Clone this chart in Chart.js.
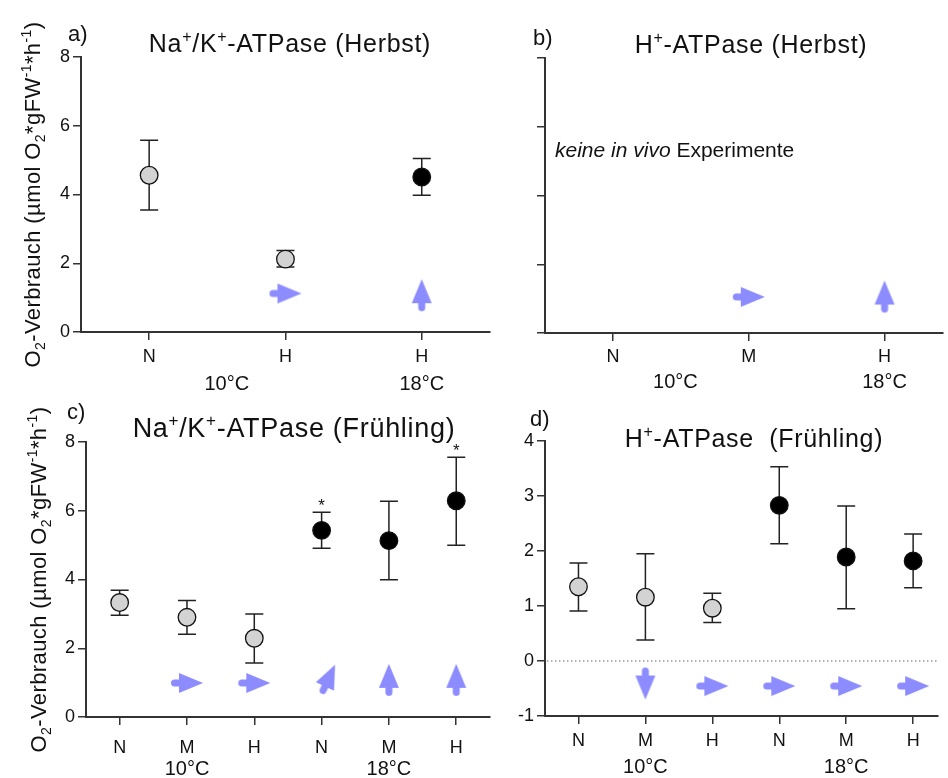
<!DOCTYPE html>
<html>
<head>
<meta charset="utf-8">
<script src="https://cdn.jsdelivr.net/npm/chart.js@4.4.1/dist/chart.umd.min.js"></script>
<style>
  body { margin: 0; background: #fff; width: 948px; height: 778px; position: relative; overflow: hidden; }
  canvas { position: absolute; }
</style>
</head>
<body>
<canvas id="chartA" width="500" height="395" style="left:0;top:0"></canvas>
<canvas id="chartB" width="478" height="395" style="left:470px;top:0"></canvas>
<canvas id="chartC" width="500" height="393" style="left:0;top:385px"></canvas>
<canvas id="chartD" width="478" height="393" style="left:470px;top:385px"></canvas>
<script>
// ===============================
// Data
// ===============================
// a) Na+/K+-ATPase (Herbst)
const aLabels = ["N", "H", "H"];
const aTemp = [10, 10, 18];
const aMean = [4.56, 2.12, 4.51];
const aLow = [3.55, 1.89, 3.98];
const aHigh = [5.58, 2.37, 5.05];
const aArrowX = [1, 2];
const aArrowY = [1.12, 1.07];
const aArrowDir = ["right", "up"];
const aGroups = ["10°C", "18°C"];
const aGroupX = [0.57, 2];

// b) H+-ATPase (Herbst)
const bLabels = ["N", "M", "H"];
const bArrowX = [1, 2];
const bArrowY = [1.05, 1.06];
const bArrowDir = ["right", "up"];
const bGroups = ["10°C", "18°C"];
const bGroupX = [0.46, 2];

// c) Na+/K+-ATPase (Frühling)
const cLabels = ["N", "M", "H", "N", "M", "H"];
const cTemp = [10, 10, 10, 18, 18, 18];
const cMean = [3.33, 2.90, 2.29, 5.43, 5.13, 6.29];
const cLow = [2.96, 2.41, 1.57, 4.91, 3.99, 5.00];
const cHigh = [3.69, 3.39, 3.00, 5.96, 6.28, 7.56];
const cStar = ["", "", "", "*", "", "*"];
const cArrowX = [1, 2, 3.1, 4, 5];
const cArrowY = [0.99, 0.99, 1.1, 1.08, 1.08];
const cArrowDir = ["right", "right", "upright", "up", "up"];
const cGroups = ["10°C", "18°C"];
const cGroupX = [1, 4];

// d) H+-ATPase (Frühling)
const dLabels = ["N", "M", "H", "N", "M", "H"];
const dTemp = [10, 10, 10, 18, 18, 18];
const dMean = [1.35, 1.16, 0.96, 2.83, 1.89, 1.82];
const dLow = [0.91, 0.38, 0.70, 2.13, 0.95, 1.33];
const dHigh = [1.78, 1.95, 1.23, 3.53, 2.82, 2.31];
const dArrowX = [1, 2, 3, 4, 5];
const dArrowY = [-0.41, -0.455, -0.455, -0.455, -0.455];
const dArrowDir = ["down", "right", "right", "right", "right"];
const dGroups = ["10°C", "18°C"];
const dGroupX = [1, 4];

// ===============================
// Helpers
// ===============================
const FONT = '"Liberation Sans", Arial, Helvetica, sans-serif';
const AXIS = "#333";
const ROT = { right: 0, up: -90, down: 90, upright: -65 };

const yTitle = [["O", ""], ["2", "sub"], ["-Verbrauch (µmol O", ""], ["2", "sub"], ["*gFW", ""],
  ["-1", "sup"], ["*h", ""], ["-1", "sup"], [")", ""]];

function makeArrow() {
  const c = document.createElement("canvas");
  c.width = 34; c.height = 22;
  const g = c.getContext("2d");
  g.fillStyle = "#8c8cff";
  // stub tail with round end
  g.beginPath();
  g.arc(4.5, 11, 3.5, Math.PI / 2, Math.PI * 1.5);
  g.lineTo(12, 7.5);
  g.lineTo(12, 14.5);
  g.closePath();
  g.fill();
  // head
  g.beginPath();
  g.moveTo(9, 1);
  g.lineTo(33, 11);
  g.lineTo(9, 21);
  g.closePath();
  g.fill();
  return c;
}
const arrowImg = makeArrow();

// draws text made of [text, kind] parts; kind: "", "sup", "sub", "i"
function drawRich(ctx, parts, x, y, size, align, rot, spacing) {
  ctx.save();
  ctx.translate(x, y);
  if (rot) ctx.rotate(rot);
  ctx.fillStyle = "#111";
  ctx.textBaseline = "alphabetic";
  ctx.textAlign = "left";
  ctx.letterSpacing = (spacing || 0) + "px";
  const fontFor = k => (k === "i" ? "italic " : "") +
    (k === "sup" || k === "sub" ? Math.round(size * 0.62) : size) + "px " + FONT;
  let w = 0;
  parts.forEach(p => { ctx.font = fontFor(p[1]); w += ctx.measureText(p[0]).width; });
  let cx = align === "center" ? -w / 2 : 0;
  parts.forEach(p => {
    ctx.font = fontFor(p[1]);
    const dy = p[1] === "sup" ? -size * 0.42 : p[1] === "sub" ? size * 0.24 : 0;
    ctx.fillText(p[0], cx, dy);
    cx += ctx.measureText(p[0]).width;
  });
  ctx.restore();
}

const errorBars = {
  id: "errorBars",
  beforeDatasetsDraw(chart, args, o) {
    const { ctx, scales: { x, y }, chartArea } = chart;
    if (o.zeroLine) {
      ctx.save();
      ctx.strokeStyle = "#666";
      ctx.lineWidth = 1.2;
      ctx.setLineDash([1.5, 2.5]);
      const py = y.getPixelForValue(0);
      ctx.beginPath();
      ctx.moveTo(chartArea.left + 2, py);
      ctx.lineTo(chartArea.right, py);
      ctx.stroke();
      ctx.restore();
    }
    if (!o.low) return;
    ctx.save();
    ctx.strokeStyle = "#222";
    ctx.lineWidth = 1.5;
    o.low.forEach((lo, i) => {
      const px = x.getPixelForValue(i);
      const p1 = y.getPixelForValue(lo);
      const p2 = y.getPixelForValue(o.high[i]);
      ctx.beginPath();
      ctx.moveTo(px, p1); ctx.lineTo(px, p2);
      ctx.moveTo(px - 9, p1); ctx.lineTo(px + 9, p1);
      ctx.moveTo(px - 9, p2); ctx.lineTo(px + 9, p2);
      ctx.stroke();
    });
    ctx.restore();
  }
};

const texts = {
  id: "texts",
  afterDraw(chart, args, o) {
    const { ctx, scales: { x, y } } = chart;
    drawRich(ctx, [[o.tag, ""]], o.tagPos[0], o.tagPos[1], 22, "left");
    drawRich(ctx, o.title, o.titlePos[0], o.titlePos[1], o.titleSize, "center", 0, 0.7);
    if (o.yTitlePos) drawRich(ctx, yTitle, o.yTitlePos[0], o.yTitlePos[1], 22, "center", -Math.PI / 2, 0.4);
    o.groups.forEach((g, i) => {
      drawRich(ctx, [[g, ""]], x.getPixelForValue(o.groupX[i]), o.groupY, 20, "center");
    });
    if (o.note) drawRich(ctx, o.note, o.notePos[0], o.notePos[1], 21, "left");
    if (o.stars) {
      o.stars.forEach((s, i) => {
        if (!s) return;
        drawRich(ctx, [[s, ""]], x.getPixelForValue(i), y.getPixelForValue(o.high[i]) - 1, 17, "center");
      });
    }
  }
};

function makePanel(id, o) {
  const datasets = [];
  if (o.mean) {
    datasets.push({
      data: o.mean.map((v, i) => ({ x: i, y: v })),
      pointRadius: 8.8,
      pointBackgroundColor: o.temp.map(t => (t === 10 ? "#d3d3d3" : "#000")),
      pointBorderColor: "#111",
      pointBorderWidth: 1.3,
      showLine: false
    });
  }
  datasets.push({
    data: o.arrowX.map((v, i) => ({ x: v, y: o.arrowY[i] })),
    pointStyle: arrowImg,
    rotation: o.arrowDir.map(d => ROT[d]),
    showLine: false
  });

  const tickFont = { family: FONT, size: 18 };
  const grid = { drawOnChartArea: false, drawTicks: true, tickLength: 8, color: AXIS, lineWidth: 1.5 };
  const border = { display: true, color: AXIS, width: 2 };

  new Chart(document.getElementById(id), {
    type: "scatter",
    data: { datasets },
    plugins: [errorBars, texts],
    options: {
      responsive: false,
      animation: false,
      layout: { padding: { left: 0, top: o.area.top, right: o.w - o.area.right, bottom: 0 } },
      plugins: {
        legend: { display: false },
        tooltip: { enabled: false },
        errorBars: { low: o.low, high: o.high, zeroLine: o.zeroLine },
        texts: o.text
      },
      scales: {
        x: {
          type: "linear",
          min: o.xMin,
          max: o.xMax,
          afterBuildTicks: s => { s.ticks = o.labels.map((l, i) => ({ value: i })); },
          afterFit: s => { s.height = o.h - o.area.bottom; },
          ticks: { callback: v => o.labels[v], font: tickFont, color: "#111", padding: o.xPad, maxRotation: 0, autoSkip: false },
          grid,
          border
        },
        y: {
          min: o.yMin,
          max: o.yMax,
          afterFit: s => { s.width = o.area.left; },
          ticks: { stepSize: o.yStep, callback: v => (o.yNumbers ? v : ""), font: tickFont, color: "#111", padding: 3 },
          grid,
          border
        }
      }
    }
  });
}

// ===============================
// Panels
// ===============================
makePanel("chartA", {
  w: 500, h: 395, area: { left: 81, right: 495, top: 57, bottom: 332 },
  xMin: -0.5, xMax: 2.5, yMin: 0, yMax: 8, yStep: 2, yNumbers: true, xPad: 6,
  labels: aLabels, temp: aTemp, mean: aMean, low: aLow, high: aHigh,
  arrowX: aArrowX, arrowY: aArrowY, arrowDir: aArrowDir,
  text: {
    tag: "a)", tagPos: [68, 41],
    title: [["Na", ""], ["+", "sup"], ["/K", ""], ["+", "sup"], ["-ATPase (Herbst)", ""]],
    titlePos: [290, 52], titleSize: 25,
    yTitlePos: [40, 194.5],
    groups: aGroups, groupX: aGroupX, groupY: 390
  }
});

makePanel("chartB", {
  w: 478, h: 395, area: { left: 75, right: 478, top: 58, bottom: 333 },
  xMin: -0.5, xMax: 2.43, yMin: 0, yMax: 8, yStep: 2, yNumbers: false, xPad: 5,
  labels: bLabels,
  arrowX: bArrowX, arrowY: bArrowY, arrowDir: bArrowDir,
  text: {
    tag: "b)", tagPos: [63, 45],
    title: [["H", ""], ["+", "sup"], ["-ATPase (Herbst)", ""]],
    titlePos: [281, 53], titleSize: 25,
    groups: bGroups, groupX: bGroupX, groupY: 388,
    note: [["keine in vivo ", "i"], ["Experimente", ""]], notePos: [85, 157]
  }
});

makePanel("chartC", {
  w: 500, h: 393, area: { left: 86, right: 498, top: 57, bottom: 332 },
  xMin: -0.5, xMax: 5.5, yMin: 0, yMax: 8, yStep: 2, yNumbers: true, xPad: 12,
  labels: cLabels, temp: cTemp, mean: cMean, low: cLow, high: cHigh,
  arrowX: cArrowX, arrowY: cArrowY, arrowDir: cArrowDir,
  text: {
    tag: "c)", tagPos: [67, 34],
    title: [["Na", ""], ["+", "sup"], ["/K", ""], ["+", "sup"], ["-ATPase (Frühling)", ""]],
    titlePos: [294, 52], titleSize: 27,
    yTitlePos: [46, 194.5],
    groups: cGroups, groupX: cGroupX, groupY: 390,
    stars: cStar, high: cHigh
  }
});

makePanel("chartD", {
  w: 478, h: 393, area: { left: 75, right: 478, top: 56, bottom: 331 },
  xMin: -0.5, xMax: 5.37, yMin: -1, yMax: 4, yStep: 1, yNumbers: true, xPad: 6,
  labels: dLabels, temp: dTemp, mean: dMean, low: dLow, high: dHigh,
  arrowX: dArrowX, arrowY: dArrowY, arrowDir: dArrowDir, zeroLine: true,
  text: {
    tag: "d)", tagPos: [60, 41],
    title: [["H", ""], ["+", "sup"], ["-ATPase  (Frühling)", ""]],
    titlePos: [284, 62], titleSize: 25,
    groups: dGroups, groupX: dGroupX, groupY: 388
  }
});
</script>
</body>
</html>
